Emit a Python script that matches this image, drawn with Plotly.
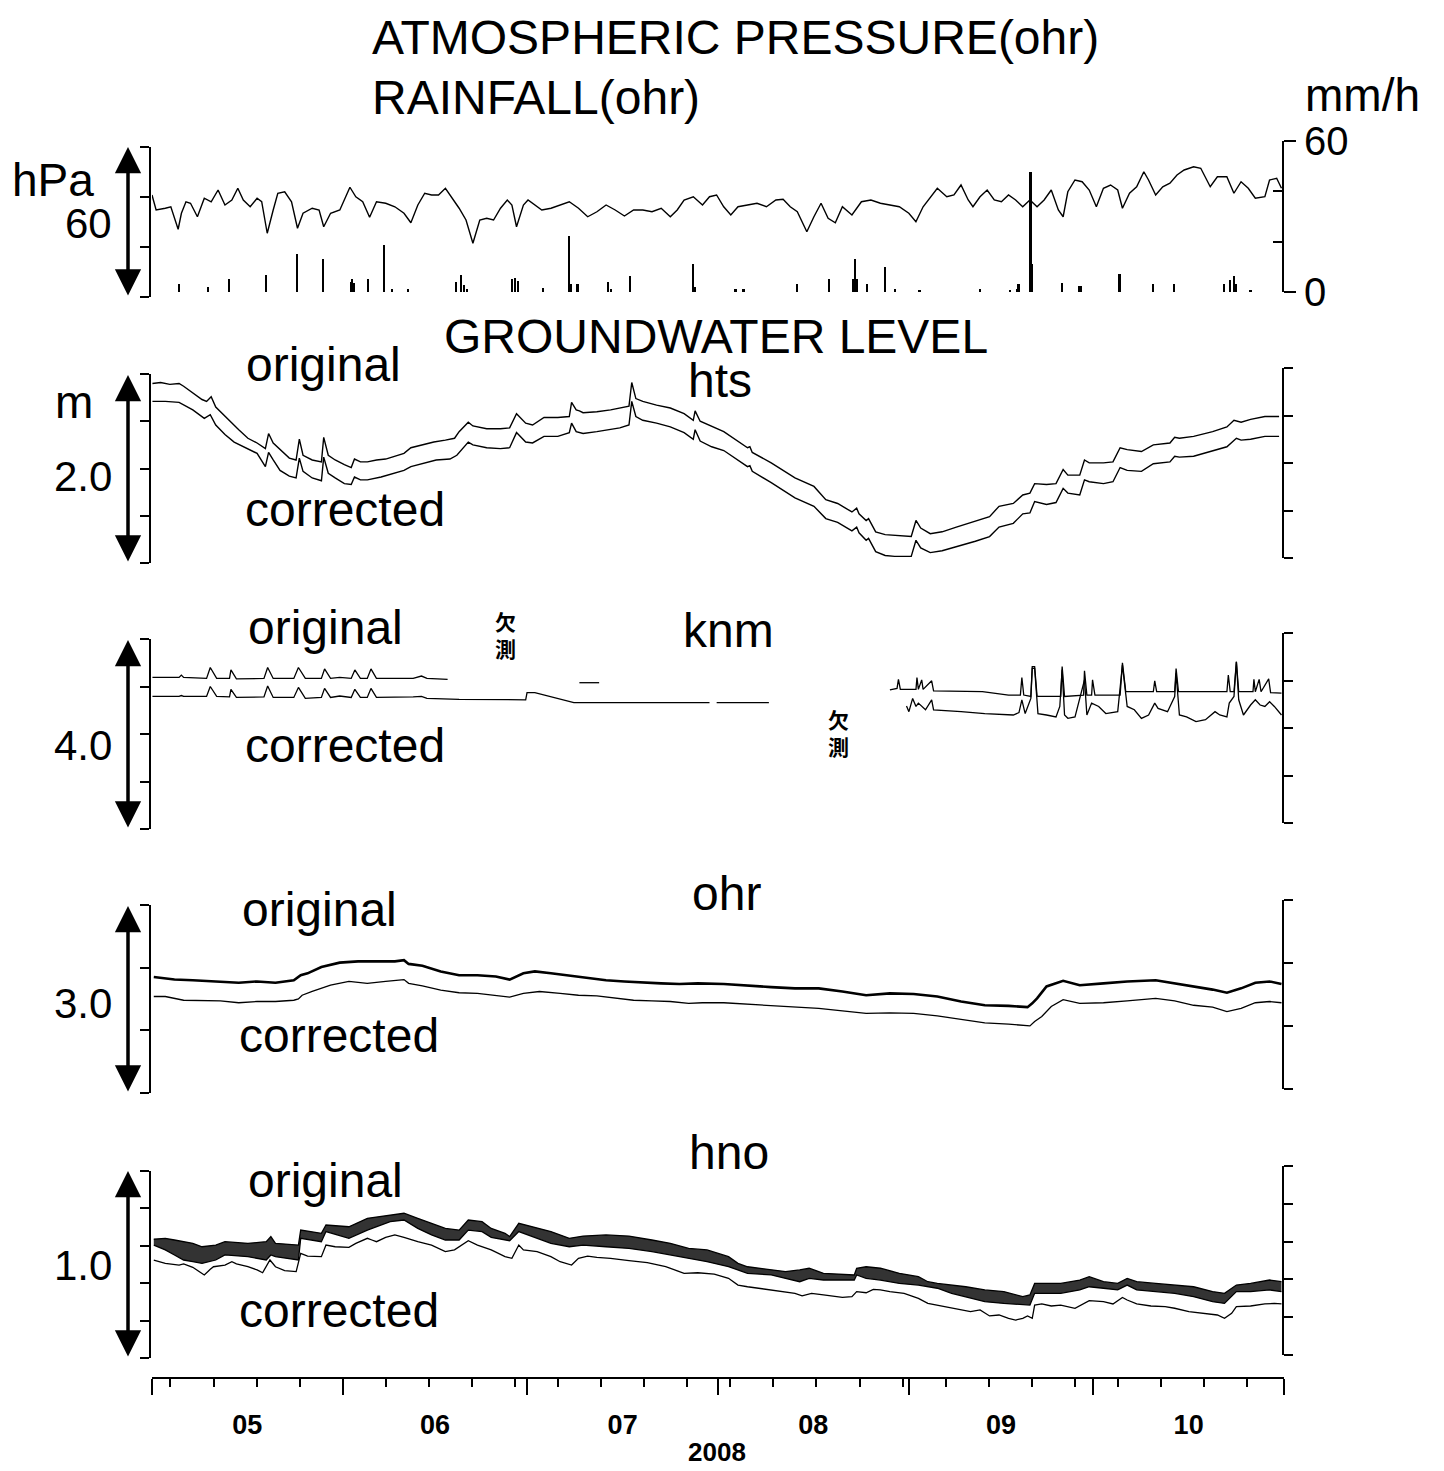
import plotly.graph_objects as go
import pandas as pd

# ---------------- data (day offset from 2008-05-01, value) ----------------
START = pd.Timestamp("2008-05-01")
END = pd.Timestamp("2008-11-01")

PRESSURE_DAYS = [0.0, 0.67, 2.16, 3.06, 4.25, 4.78, 5.52, 6.26, 7.38, 8.50, 9.62, 10.74, 11.86, 12.98, 13.95,
                 14.84, 15.96, 17.08, 17.83, 18.73, 19.70, 20.45, 21.57, 22.68, 23.65, 24.55, 26.04, 27.16,
                 27.91, 29.03, 30.53, 31.63, 32.17, 33.13, 34.25, 35.37, 36.49, 37.99, 39.48, 40.96, 42.08,
                 43.21, 44.33, 45.45, 46.57, 47.69, 48.80, 49.92, 51.04, 52.16, 53.28, 54.40, 55.52, 56.65,
                 57.75, 58.50, 59.25, 60.37, 61.12, 62.24, 63.36, 64.86, 66.34, 67.83, 69.33, 70.82, 72.32,
                 73.81, 75.29, 76.79, 78.28, 79.78, 81.27, 82.77, 84.25, 85.37, 86.49, 87.99, 89.48,
                 90.62, 91.77, 92.93, 94.08, 95.25, 96.80, 98.34, 99.87, 101.41, 102.58, 103.74, 104.89,
                 105.66, 106.44, 107.59, 108.75, 109.90, 111.07, 112.22, 113.77, 115.31, 116.86, 118.40,
                 119.93, 121.47, 123.02, 124.17, 125.34, 126.85, 127.65, 129.19, 130.35, 131.50, 132.67,
                 133.44, 134.59, 135.75, 136.91, 138.07, 139.22, 140.38, 141.53, 142.70, 143.86, 145.01,
                 146.17, 147.32, 148.10, 148.86, 150.02, 151.19, 152.34, 153.50, 154.65, 155.81, 156.97,
                 157.74, 158.89, 160.05, 161.22, 161.98, 163.14, 164.29, 165.46, 166.61, 167.77, 169.31,
                 170.47, 172.01, 173.17, 174.71, 175.86, 177.02, 178.19, 179.34, 180.89, 181.65, 182.81, 183.59]
PRESSURE_HPA = [1005.8, 999.8, 1000.5, 1001.1, 992.1, 998.5, 1003.1, 1002.5, 997.1, 1004.5, 1003.1, 1007.8,
                1001.8, 1003.8, 1008.5, 1003.8, 1001.1, 1004.5, 1003.1, 990.5, 999.8, 1006.5, 1007.1, 1003.1,
                992.5, 998.5, 1000.5, 999.8, 993.1, 998.5, 999.8, 1005.8, 1008.9, 1005.1, 1003.1, 996.9,
                1003.1, 1002.5, 1001.1, 998.5, 994.7, 1001.8, 1006.5, 1005.8, 1005.8, 1008.5, 1004.5, 1000.5,
                995.8, 986.5, 995.8, 996.5, 995.8, 1000.5, 1003.8, 1001.8, 993.1, 1001.8, 1003.8, 1001.8,
                999.8, 1000.5, 1001.8, 1003.1, 1000.5, 997.1, 999.1, 1001.8, 999.8, 997.4, 999.8, 999.8,
                999.1, 1000.5, 997.1, 999.8, 1003.8, 1005.1, 1001.8,
                1005.1, 1005.8, 1001.1, 997.8, 1001.1, 1001.8, 1002.5, 1001.1, 1003.8, 1004.1, 1001.1, 999.1,
                995.1, 991.1, 997.1, 1002.5, 996.5, 994.7, 1001.1, 997.8, 1003.1, 1003.8, 1002.5, 1001.8,
                1001.1, 998.5, 995.1, 1001.1, 1005.8, 1008.5, 1005.1, 1005.8, 1009.8, 1003.8, 1001.1, 1005.1,
                1007.8, 1003.8, 1003.1, 1005.8, 1003.8, 1001.1, 1003.8, 1001.1, 1003.8, 1007.8, 999.8, 997.1,
                1007.1, 1011.8, 1011.1, 1007.8, 1001.1, 1008.5, 1009.8, 1007.8, 1000.5, 1006.5, 1009.1,
                1015.1, 1011.8, 1005.8, 1009.1, 1010.5, 1013.8, 1015.8, 1017.1, 1016.5, 1009.1, 1013.1,
                1013.1, 1006.5, 1011.1, 1008.5, 1004.5, 1005.1, 1011.8, 1012.5, 1008.5]

RAIN = [(4.4, 3.3), (9.1, 2.0), (12.6, 5.0), (18.6, 6.7), (23.6, 15.0), (27.8, 13.0), (32.4, 4.0),
        (32.6, 5.3), (32.8, 3.5), (35.2, 5.0), (37.8, 18.7), (39.1, 1.3), (41.7, 1.3), (49.5, 4.0),
        (50.3, 6.7), (50.8, 2.7), (51.3, 1.0), (58.6, 5.0), (59.0, 5.5), (59.5, 4.5), (63.6, 1.6),
        (67.8, 22.4), (68.1, 3.0), (69.2, 3.0), (74.2, 4.0), (74.7, 1.3), (77.7, 6.4), (88.0, 11.0),
        (88.3, 2.0), (94.9, 1.0), (96.2, 1.3), (104.9, 3.3), (110.1, 5.3), (114.0, 5.0), (114.3, 13.3),
        (114.6, 5.0), (116.2, 3.0), (119.2, 10.0), (120.8, 1.3), (124.8, 0.5), (134.6, 1.0), (139.5, 0.7),
        (140.6, 1.0), (140.9, 3.3), (142.85, 47.6), (143.1, 11.0), (147.9, 3.6), (150.7, 2.3),
        (151.1, 2.3), (157.3, 7.3), (162.8, 3.0), (166.1, 3.3), (174.3, 3.0), (175.3, 4.7),
        (175.9, 6.3), (176.2, 3.0), (178.6, 0.7)]

HTS_ORIGINAL = [(0.07, 2.90), (1.41, 2.91), (2.90, 2.89), (4.40, 2.90), (5.14, 2.87), (6.63, 2.80), (8.13, 2.73),
                (8.87, 2.71), (9.62, 2.76), (10.36, 2.65), (11.86, 2.55), (12.60, 2.51), (14.10, 2.41), (15.59, 2.32),
                (17.08, 2.27), (18.43, 2.21), (18.95, 2.37), (19.70, 2.27), (20.81, 2.20), (22.32, 2.11), (23.42, 2.09),
                (23.95, 2.31), (24.55, 2.14), (26.04, 2.09), (27.54, 2.07), (27.91, 2.33), (28.65, 2.14), (29.77, 2.09),
                (31.27, 2.04), (32.38, 2.01), (32.91, 2.10), (33.88, 2.07), (35.01, 2.07), (36.50, 2.09), (37.98, 2.10),
                (39.48, 2.13), (40.96, 2.16), (42.08, 2.22), (43.95, 2.25), (45.81, 2.28), (47.68, 2.30), (49.18, 2.32),
                (49.92, 2.39), (51.41, 2.49), (52.16, 2.45), (54.40, 2.42), (56.63, 2.42), (58.13, 2.43), (59.25, 2.58),
                (60.74, 2.48), (61.86, 2.46), (63.72, 2.54), (64.84, 2.54), (65.96, 2.54), (67.83, 2.55), (68.20, 2.70),
                (68.95, 2.62), (69.47, 2.61), (70.07, 2.59), (72.31, 2.60), (74.55, 2.62), (76.04, 2.64), (77.53, 2.66),
                (77.98, 2.91), (78.65, 2.74), (79.77, 2.71), (82.01, 2.67), (84.25, 2.64), (86.49, 2.58), (87.98, 2.51),
                (88.28, 2.61), (89.10, 2.50), (90.97, 2.45), (92.94, 2.39), (96.80, 2.22), (97.18, 2.23), (97.57, 2.17),
                (100.65, 2.06), (104.51, 1.90), (107.60, 1.81), (109.52, 1.67), (111.45, 1.63), (113.77, 1.54),
                (114.54, 1.58), (114.92, 1.52), (116.08, 1.45), (116.47, 1.47), (117.63, 1.33), (119.17, 1.30),
                (120.71, 1.29), (123.41, 1.28), (124.18, 1.45), (124.95, 1.37), (126.50, 1.31), (128.43, 1.33),
                (130.74, 1.38), (133.83, 1.44), (136.14, 1.49), (137.68, 1.60), (140.00, 1.63), (141.54, 1.72),
                (142.70, 1.74), (143.47, 1.84), (145.40, 1.83), (146.94, 1.84), (148.10, 1.99), (148.87, 1.93),
                (150.80, 1.93), (151.57, 2.09), (152.34, 2.06), (154.66, 2.06), (156.20, 2.07), (157.36, 2.22),
                (158.51, 2.20), (160.83, 2.18), (162.76, 2.25), (165.46, 2.27), (166.23, 2.33), (167.00, 2.32),
                (169.31, 2.34), (172.40, 2.39), (174.72, 2.44), (175.87, 2.51), (177.03, 2.49), (178.57, 2.52),
                (180.89, 2.55), (183.20, 2.55)]
HTS_CORRECTED = [(0.07, 2.71), (2.16, 2.71), (4.40, 2.70), (6.63, 2.62), (8.50, 2.53), (9.47, 2.57), (10.36, 2.46),
                 (11.86, 2.36), (13.35, 2.28), (15.59, 2.21), (17.08, 2.16), (18.43, 2.02), (18.95, 2.17), (19.70, 2.09),
                 (20.81, 1.98), (22.32, 1.92), (23.42, 1.90), (23.95, 2.11), (24.55, 1.97), (26.04, 1.90), (27.54, 1.87),
                 (27.91, 2.12), (28.65, 1.95), (29.77, 1.90), (31.27, 1.84), (32.38, 1.83), (32.91, 1.91), (33.88, 1.88),
                 (35.01, 1.88), (37.24, 1.91), (39.48, 1.95), (40.96, 1.98), (42.08, 2.02), (43.95, 2.05), (46.19, 2.09),
                 (48.43, 2.10), (49.55, 2.14), (51.41, 2.28), (52.16, 2.25), (54.40, 2.22), (56.63, 2.21), (58.13, 2.22),
                 (59.25, 2.38), (60.74, 2.28), (61.86, 2.27), (63.72, 2.34), (65.96, 2.34), (67.83, 2.38), (68.20, 2.48),
                 (68.95, 2.39), (70.07, 2.37), (72.31, 2.39), (74.55, 2.41), (76.04, 2.43), (77.53, 2.46), (77.98, 2.71),
                 (78.65, 2.55), (79.77, 2.51), (82.01, 2.48), (84.25, 2.44), (86.49, 2.38), (87.98, 2.31), (88.28, 2.41),
                 (89.10, 2.29), (90.97, 2.23), (92.94, 2.19), (96.80, 2.02), (97.18, 2.03), (97.57, 1.97), (100.65, 1.85),
                 (104.51, 1.69), (107.60, 1.60), (109.52, 1.47), (111.45, 1.43), (113.77, 1.34), (114.54, 1.38),
                 (114.92, 1.32), (116.08, 1.24), (116.47, 1.26), (117.63, 1.12), (119.17, 1.08), (120.71, 1.07),
                 (123.41, 1.07), (124.18, 1.24), (124.95, 1.16), (126.50, 1.11), (128.43, 1.13), (130.74, 1.17),
                 (133.83, 1.23), (136.14, 1.28), (137.68, 1.38), (140.00, 1.42), (141.54, 1.52), (142.70, 1.53),
                 (143.47, 1.65), (145.40, 1.62), (146.94, 1.64), (148.10, 1.79), (148.87, 1.74), (150.80, 1.72),
                 (151.57, 1.88), (152.34, 1.86), (154.66, 1.84), (156.20, 1.86), (157.36, 2.01), (158.51, 1.98),
                 (160.83, 1.97), (162.76, 2.05), (165.46, 2.07), (166.23, 2.13), (167.00, 2.12), (169.31, 2.13),
                 (172.40, 2.19), (174.72, 2.23), (176.26, 2.32), (177.03, 2.30), (178.57, 2.31), (180.89, 2.34),
                 (183.20, 2.34)]

# None marks a gap in the record (欠測)
KNM_ORIGINAL = [(0.07, 4.19), (4.40, 4.19), (4.77, 4.24), (5.14, 4.19), (8.87, 4.17), (9.47, 4.40), (10.51, 4.17),
                (12.60, 4.17), (12.83, 4.35), (13.72, 4.16), (18.20, 4.17), (18.80, 4.40), (19.70, 4.17),
                (23.05, 4.17), (23.80, 4.40), (24.92, 4.17), (27.53, 4.17), (28.05, 4.37), (29.02, 4.17),
                (30.51, 4.19), (32.38, 4.17), (32.97, 4.35), (33.87, 4.17), (34.99, 4.17), (35.59, 4.37),
                (36.48, 4.17), (42.45, 4.17), (43.80, 4.22), (44.69, 4.17), (48.05, 4.15), (50.0, None),
                (69.47, 4.08), (72.68, 4.08), (80.0, None),
                (119.94, 3.93), (121.10, 3.96), (121.33, 4.15), (121.64, 3.94), (124.18, 3.94), (124.34, 4.19),
                (124.57, 3.94), (125.11, 4.14), (125.34, 3.94), (126.73, 4.12), (127.04, 3.91), (134.98, 3.89),
                (139.23, 3.82), (141.15, 3.82), (141.39, 4.19), (141.70, 3.82), (142.85, 3.79), (143.08, 4.42),
                (143.47, 4.42), (143.86, 3.80), (144.01, 3.79), (147.71, 3.79), (147.94, 4.42), (148.33, 3.79),
                (151.42, 3.82), (151.57, 4.33), (151.96, 3.82), (152.73, 3.82), (152.88, 4.14), (153.27, 3.82),
                (157.36, 3.82), (157.74, 4.50), (158.28, 3.89), (162.76, 3.89), (162.99, 4.12), (163.30, 3.89),
                (166.23, 3.89), (166.46, 4.38), (166.85, 3.89), (174.72, 3.89), (174.95, 4.24), (175.26, 3.89),
                (175.87, 3.89), (176.26, 4.52), (176.64, 3.89), (178.96, 3.89), (179.11, 4.15), (179.34, 3.89),
                (179.96, 4.15), (180.27, 3.89), (181.51, 4.16), (181.82, 3.87), (183.59, 3.86)]
KNM_CORRECTED = [(0.07, 3.79), (4.40, 3.79), (4.77, 3.81), (5.14, 3.79), (8.87, 3.79), (9.47, 4.00), (10.51, 3.79),
                 (12.60, 3.78), (12.83, 3.94), (13.72, 3.77), (18.20, 3.78), (18.80, 4.01), (19.70, 3.77),
                 (23.05, 3.77), (23.80, 3.98), (24.92, 3.75), (27.53, 3.77), (28.05, 3.96), (29.02, 3.77),
                 (30.51, 3.80), (32.38, 3.77), (32.97, 3.94), (33.87, 3.77), (34.99, 3.77), (35.59, 3.96),
                 (36.48, 3.77), (42.45, 3.78), (43.80, 3.79), (44.69, 3.75), (49.92, 3.73), (60.74, 3.72),
                 (60.96, 3.87), (62.23, 3.87), (64.84, 3.79), (68.57, 3.66), (79.77, 3.66), (90.62, 3.66),
                 (91.2, None), (91.78, 3.66), (100.27, 3.66), (110.0, None),
                 (122.64, 3.59), (123.03, 3.47), (123.64, 3.75), (124.18, 3.58), (124.57, 3.65), (125.73, 3.51),
                 (126.73, 3.72), (127.04, 3.51), (131.51, 3.47), (135.37, 3.43), (140.00, 3.40), (140.92, 3.45),
                 (141.39, 3.72), (141.93, 3.43), (142.85, 3.75), (143.08, 4.38), (143.47, 4.38), (144.01, 3.43),
                 (145.40, 3.40), (146.94, 3.36), (147.56, 3.58), (147.94, 4.35), (148.33, 3.40), (148.87, 3.33),
                 (150.03, 3.36), (151.57, 4.14), (151.96, 3.40), (152.73, 3.65), (153.88, 3.58), (155.04, 3.43),
                 (156.97, 3.47), (157.74, 4.45), (158.51, 3.58), (159.67, 3.51), (160.83, 3.33), (161.99, 3.40),
                 (162.99, 3.65), (163.53, 3.54), (165.07, 3.47), (166.23, 3.79), (166.46, 4.28), (167.00, 3.40),
                 (168.16, 3.36), (169.70, 3.26), (171.24, 3.30), (172.79, 3.47), (173.56, 3.40), (174.72, 3.36),
                 (175.10, 3.65), (175.87, 3.79), (176.26, 4.52), (176.64, 3.72), (177.41, 3.40), (178.57, 3.61),
                 (179.34, 3.72), (180.12, 3.61), (180.89, 3.58), (181.66, 3.68), (182.43, 3.58), (183.20, 3.45),
                 (183.59, 3.40)]

OHR_ORIGINAL = [(0.29, 2.85), (3.65, 2.81), (6.63, 2.80), (9.62, 2.78), (14.10, 2.76), (17.08, 2.78), (20.07, 2.76),
                (23.05, 2.80), (24.17, 2.88), (25.29, 2.91), (27.53, 3.01), (30.51, 3.08), (33.50, 3.10), (36.49, 3.10),
                (39.47, 3.10), (40.96, 3.12), (41.71, 3.06), (43.95, 3.03), (46.93, 2.94), (49.92, 2.88), (52.90, 2.88),
                (55.89, 2.86), (58.13, 2.81), (60.37, 2.91), (62.23, 2.94), (64.84, 2.91), (67.83, 2.87), (70.81, 2.83),
                (73.80, 2.80), (76.78, 2.78), (79.77, 2.76), (82.75, 2.75), (85.74, 2.74), (88.72, 2.75), (92.94, 2.74),
                (96.80, 2.71), (100.65, 2.69), (104.51, 2.67), (108.37, 2.67), (112.22, 2.62), (116.08, 2.56),
                (119.94, 2.59), (123.80, 2.58), (127.65, 2.54), (131.51, 2.46), (135.37, 2.40), (139.23, 2.39),
                (142.31, 2.37), (143.08, 2.43), (143.86, 2.51), (145.40, 2.70), (148.10, 2.79), (150.80, 2.72),
                (154.66, 2.75), (158.51, 2.78), (163.14, 2.80), (166.23, 2.75), (169.31, 2.70), (172.40, 2.65),
                (174.72, 2.60), (177.03, 2.67), (179.34, 2.76), (181.66, 2.78), (183.59, 2.74)]
OHR_CORRECTED = [(0.29, 2.54), (2.16, 2.54), (5.14, 2.48), (8.13, 2.47), (11.11, 2.47), (14.10, 2.44), (17.08, 2.46),
                 (20.07, 2.46), (23.05, 2.48), (23.80, 2.50), (24.40, 2.56), (26.04, 2.62), (29.02, 2.72), (32.01, 2.78),
                 (34.99, 2.75), (37.98, 2.78), (40.96, 2.81), (41.71, 2.75), (43.95, 2.71), (46.93, 2.64), (49.92, 2.60),
                 (52.90, 2.59), (55.89, 2.56), (58.13, 2.53), (60.37, 2.59), (62.98, 2.62), (66.34, 2.59), (69.32, 2.56),
                 (72.31, 2.55), (75.29, 2.51), (78.28, 2.48), (81.26, 2.47), (84.25, 2.46), (87.23, 2.43), (89.47, 2.44),
                 (92.94, 2.44), (96.80, 2.42), (100.65, 2.39), (104.51, 2.37), (108.37, 2.35), (112.22, 2.31),
                 (116.08, 2.27), (119.94, 2.28), (123.80, 2.27), (127.65, 2.23), (131.51, 2.18), (135.37, 2.12),
                 (139.23, 2.10), (142.70, 2.07), (143.47, 2.14), (144.63, 2.22), (146.17, 2.38), (148.10, 2.49),
                 (150.80, 2.43), (154.66, 2.44), (158.51, 2.47), (163.14, 2.51), (166.23, 2.47), (169.31, 2.40),
                 (172.40, 2.37), (174.72, 2.30), (177.03, 2.35), (179.34, 2.44), (181.66, 2.46), (183.59, 2.44)]

# hno original: tidal record, given as (day, high-water envelope, low-water envelope)
HNO_ORIGINAL = [(0.29, 1.635, 1.604), (2.16, 1.640, 1.578), (3.65, 1.631, 1.551), (5.14, 1.622, 1.524),
                (6.63, 1.613, 1.515), (8.13, 1.595, 1.506), (10.36, 1.604, 1.524), (11.86, 1.622, 1.551),
                (15.59, 1.613, 1.542), (18.57, 1.622, 1.524), (19.32, 1.649, 1.551), (20.07, 1.613, 1.542),
                (23.80, 1.604, 1.524), (24.17, 1.684, 1.640), (27.53, 1.667, 1.622), (28.28, 1.711, 1.676),
                (32.01, 1.702, 1.640), (35.01, 1.747, 1.684), (38.72, 1.765, 1.729), (40.96, 1.774, 1.738),
                (43.20, 1.747, 1.693), (45.44, 1.720, 1.658), (47.68, 1.693, 1.631), (49.92, 1.684, 1.631),
                (51.41, 1.738, 1.684), (53.65, 1.729, 1.676), (55.14, 1.693, 1.645), (57.38, 1.667, 1.631),
                (58.13, 1.649, 1.627), (59.62, 1.720, 1.676), (62.60, 1.693, 1.640), (64.84, 1.676, 1.613),
                (67.83, 1.640, 1.595), (70.07, 1.652, 1.604), (73.80, 1.658, 1.595), (77.53, 1.652, 1.586),
                (81.26, 1.631, 1.569), (84.25, 1.613, 1.551), (87.23, 1.586, 1.533), (90.22, 1.578, 1.515),
                (93.71, 1.542, 1.488), (95.25, 1.506, 1.471), (96.80, 1.488, 1.453), (100.65, 1.471, 1.444),
                (102.97, 1.462, 1.426), (105.28, 1.471, 1.408), (106.82, 1.480, 1.426), (109.14, 1.453, 1.417),
                (112.22, 1.449, 1.417), (114.15, 1.444, 1.417), (114.54, 1.480, 1.444), (116.08, 1.488, 1.426),
                (118.40, 1.480, 1.417), (121.48, 1.453, 1.399), (124.57, 1.435, 1.390), (126.11, 1.408, 1.381),
                (127.65, 1.399, 1.373), (129.97, 1.390, 1.346), (132.28, 1.381, 1.328), (135.37, 1.364, 1.301),
                (138.46, 1.355, 1.292), (141.54, 1.328, 1.283), (142.70, 1.337, 1.283), (143.47, 1.399, 1.346),
                (147.71, 1.399, 1.346), (150.80, 1.417, 1.364), (152.34, 1.435, 1.381), (154.66, 1.408, 1.373),
                (156.97, 1.399, 1.364), (158.51, 1.426, 1.390), (160.06, 1.408, 1.364), (163.14, 1.399, 1.355),
                (166.23, 1.390, 1.346), (169.31, 1.381, 1.328), (172.40, 1.355, 1.301), (174.33, 1.346, 1.292),
                (176.26, 1.390, 1.355), (178.57, 1.399, 1.355), (181.66, 1.417, 1.364), (183.59, 1.408, 1.355)]
HNO_CORRECTED = [(0.29, 1.524), (2.16, 1.506), (4.40, 1.497), (5.14, 1.503), (6.63, 1.485), (8.50, 1.444),
                 (9.47, 1.474), (10.00, 1.488), (11.86, 1.497), (12.98, 1.515), (13.72, 1.503), (15.59, 1.488),
                 (17.08, 1.471), (17.98, 1.456), (19.17, 1.524), (20.07, 1.488), (21.56, 1.467), (23.43, 1.462),
                 (24.17, 1.560), (25.29, 1.545), (27.53, 1.542), (28.28, 1.604), (29.77, 1.595), (32.01, 1.592),
                 (33.13, 1.613), (35.01, 1.640), (35.74, 1.631), (36.49, 1.622), (37.98, 1.645), (39.47, 1.658),
                 (40.96, 1.645), (43.20, 1.622), (45.44, 1.604), (47.68, 1.569), (49.17, 1.578), (50.66, 1.613),
                 (51.41, 1.627), (52.90, 1.604), (55.14, 1.578), (57.38, 1.542), (58.50, 1.533), (59.62, 1.604),
                 (60.37, 1.578), (62.60, 1.569), (64.84, 1.542), (66.34, 1.515), (68.20, 1.497), (69.32, 1.533),
                 (70.81, 1.545), (72.31, 1.538), (74.54, 1.533), (77.53, 1.521), (80.51, 1.510), (83.50, 1.488),
                 (86.49, 1.453), (88.72, 1.456), (91.39, 1.449), (93.71, 1.426), (95.25, 1.390), (96.80, 1.381),
                 (100.65, 1.364), (104.51, 1.346), (105.67, 1.332), (107.21, 1.346), (109.14, 1.337), (112.22, 1.324),
                 (113.77, 1.328), (114.54, 1.355), (116.08, 1.349), (117.24, 1.367), (118.40, 1.364), (119.94, 1.355),
                 (122.25, 1.346), (124.57, 1.319), (126.11, 1.292), (129.20, 1.271), (131.51, 1.257), (133.05, 1.248),
                 (134.60, 1.257), (136.14, 1.225), (137.68, 1.230), (139.23, 1.212), (140.38, 1.203), (141.54, 1.212),
                 (142.31, 1.225), (143.08, 1.212), (143.47, 1.283), (144.63, 1.289), (146.17, 1.278), (147.71, 1.283),
                 (150.03, 1.266), (151.57, 1.292), (152.34, 1.307), (154.66, 1.301), (156.20, 1.289), (157.74, 1.324),
                 (158.51, 1.310), (160.06, 1.289), (162.37, 1.278), (164.68, 1.275), (166.23, 1.266), (168.54, 1.248),
                 (170.86, 1.239), (173.17, 1.230), (174.33, 1.212), (175.49, 1.239), (176.26, 1.275), (178.57, 1.278),
                 (180.89, 1.289), (182.43, 1.292), (183.59, 1.289)]

MONTH_LABEL_FORMAT = "%m"
YEAR_LABEL = "2008"

# ---------------- helpers ----------------
OFF = 8                      # page body margin of the html page
W, H = 1444 - OFF, 1471 - OFF
SANS = "Liberation Sans, Arial, Helvetica, sans-serif"
CJK = "Noto Sans CJK JP, Noto Sans CJK SC, sans-serif"


def dates(days):
    return [START + pd.Timedelta(days=d) for d in days]


def col(rows, i):
    return [r[i] for r in rows]


def px(x):
    return (x - OFF) / W


def py(y):
    return 1 - (y - OFF) / H


fig = go.Figure()


def line_trace(rows, yaxis, width=1.4, i=1):
    fig.add_trace(go.Scatter(x=dates(col(rows, 0)), y=col(rows, i), mode="lines",
                             line=dict(color="black", width=width), connectgaps=False,
                             xaxis="x", yaxis=yaxis, showlegend=False, hoverinfo="skip"))


# panel 1: pressure + rainfall
fig.add_trace(go.Scatter(x=dates(PRESSURE_DAYS), y=PRESSURE_HPA, mode="lines",
                         line=dict(color="black", width=1.4), xaxis="x", yaxis="y",
                         showlegend=False, hoverinfo="skip"))
fig.add_trace(go.Bar(x=dates(col(RAIN, 0)), y=col(RAIN, 1), width=0.28 * 86400000,
                     marker=dict(color="black", line=dict(width=0)), xaxis="x", yaxis="y2",
                     showlegend=False, hoverinfo="skip"))
# panel 2 hts
line_trace(HTS_ORIGINAL, "y3")
line_trace(HTS_CORRECTED, "y3")
# panel 3 knm
line_trace(KNM_ORIGINAL, "y5", 1.3)
line_trace(KNM_CORRECTED, "y5", 1.3)
# panel 4 ohr
line_trace(OHR_ORIGINAL, "y7", 2.6)
line_trace(OHR_CORRECTED, "y7", 1.3)
# panel 5 hno: original drawn as band between tidal envelopes
fig.add_trace(go.Scatter(x=dates(col(HNO_ORIGINAL, 0)), y=col(HNO_ORIGINAL, 1), mode="lines",
                         line=dict(color="black", width=1.3), xaxis="x", yaxis="y9",
                         showlegend=False, hoverinfo="skip"))
fig.add_trace(go.Scatter(x=dates(col(HNO_ORIGINAL, 0)), y=col(HNO_ORIGINAL, 2), mode="lines",
                         line=dict(color="black", width=1.3), fill="tonexty",
                         fillcolor="rgba(0,0,0,0.8)", xaxis="x", yaxis="y9",
                         showlegend=False, hoverinfo="skip"))
line_trace(HNO_CORRECTED, "y9", 1.3)
# right-hand bracket axes (empty subplots)
for ya in ["y4", "y6", "y8", "y10"]:
    fig.add_trace(go.Scatter(x=[], y=[], xaxis="x", yaxis=ya, showlegend=False))

LEFT_POS = px(150)
RIGHT_POS = px(1283)


def yax(top, bottom, rng, tickvals, side="left"):
    return dict(domain=[py(bottom), py(top)], range=rng, anchor="free",
                position=LEFT_POS if side == "left" else RIGHT_POS, side=side,
                showline=True, linecolor="black", linewidth=2, ticks="outside", ticklen=9,
                tickwidth=2, tickcolor="black", tickmode="array", tickvals=tickvals,
                showticklabels=False, showgrid=False, zeroline=False, automargin=False)


layout = dict(
    template="none",
    width=W, height=H, margin=dict(l=0, r=0, t=0, b=0, pad=0, autoexpand=False),
    paper_bgcolor="white", plot_bgcolor="rgba(0,0,0,0)", showlegend=False, bargap=0,
    xaxis=dict(domain=[px(152), px(1284)], anchor="free", position=py(1378), type="date",
               range=[START, END], showline=True, linecolor="black", linewidth=2,
               ticks="outside", ticklen=16, tickwidth=2, tickcolor="black",
               dtick="M1", tick0="2008-05-01", tickformat=MONTH_LABEL_FORMAT, ticklabelmode="period",
               ticklabelstandoff=7, automargin=False,
               tickfont=dict(family=SANS, size=27, color="black", weight="bold"),
               showgrid=False, zeroline=False,
               minor=dict(ticks="outside", ticklen=8, tickwidth=1.5, tickcolor="black",
                          dtick=7 * 86400000, tick0="2008-05-04", showgrid=False)),
    yaxis=yax(147, 297, [965, 1025], [965, 985, 1005, 1025]),
    yaxis2=dict(domain=[py(292), py(141)], range=[0, 60], anchor="free", position=RIGHT_POS,
                side="right", showline=True, linecolor="black", linewidth=2, ticks="outside",
                ticklen=12, tickwidth=2, tickcolor="black", tickmode="array", tickvals=[0, 60],
                ticktext=["0", "60"], tickfont=dict(family=SANS, size=40, color="black"),
                showgrid=False, zeroline=False, automargin=False,
                minor=dict(tickmode="array", tickvals=[20, 40], ticks="inside", ticklen=9,
                           tickwidth=2, tickcolor="black", showgrid=False)),
    yaxis3=yax(374, 563, [1.0, 3.0], [1.0, 1.5, 2.0, 2.5, 3.0]),
    yaxis4=yax(368, 558, [1.0, 3.0], [1.0, 1.5, 2.0, 2.5, 3.0], "right"),
    yaxis5=yax(639, 829, [1.0, 5.0], [1, 2, 3, 4, 5]),
    yaxis6=yax(633, 823, [1.0, 5.0], [1, 2, 3, 4, 5], "right"),
    yaxis7=yax(905, 1093, [1.0, 4.0], [1, 2, 3, 4]),
    yaxis8=yax(900, 1089, [1.0, 4.0], [1, 2, 3, 4], "right"),
    yaxis9=yax(1171, 1358, [1.0, 2.0], [1.0, 1.2, 1.4, 1.6, 1.8, 2.0]),
    yaxis10=yax(1166, 1355, [1.0, 2.0], [1.0, 1.2, 1.4, 1.6, 1.8, 2.0], "right"),
)
fig.update_layout(**layout)

ann = []


def text(x, y, s, size=48, anchor="left", family=SANS, weight="normal"):
    ann.append(dict(x=px(x), y=py(y), xref="paper", yref="paper", text=s, showarrow=False,
                    xanchor=anchor, yanchor="middle",
                    font=dict(family=family, size=size, color="black", weight=weight)))


def arrow(top, bottom):
    ann.append(dict(x=px(128), y=py(top), xref="paper", yref="paper", ax=0, ay=bottom - top,
                    axref="pixel", ayref="pixel", text="", showarrow=True,
                    arrowhead=2, startarrowhead=2, arrowside="end+start",
                    arrowsize=1.5, startarrowsize=1.5, arrowwidth=3.5, arrowcolor="black",
                    standoff=0, startstandoff=0))


text(370, 38, "ATMOSPHERIC PRESSURE(ohr)")
text(370, 97, "RAINFALL(ohr)")
text(1303, 95, "mm/h", 46)
text(10, 180, "hPa", 46)
text(114, 223, "60", 42, "right")
text(442, 336, "GROUNDWATER LEVEL")

text(244, 364, "original")
text(686, 380, "hts")
text(53, 402, "m", 46)
text(114, 476, "2.0", 42, "right")
text(243, 510, "corrected")

text(246, 627, "original")
text(681, 630, "knm")
text(114, 745, "4.0", 42, "right")
text(243, 745, "corrected")
text(505, 634, "欠<br>測", 21, "center", CJK, "bold")
text(838, 732, "欠<br>測", 21, "center", CJK, "bold")

text(240, 909, "original")
text(690, 893, "ohr")
text(114, 1004, "3.0", 42, "right")
text(237, 1035, "corrected")

text(687, 1152, "hno")
text(246, 1180, "original")
text(114, 1265, "1.0", 42, "right")
text(237, 1310, "corrected")

text(717, 1452, YEAR_LABEL, 26, "center", SANS, "bold")

for t, b in [(147, 297), (375, 563), (640, 829), (906, 1093), (1171, 1358)]:
    arrow(t, b)

fig.update_layout(annotations=ann)
fig.write_html("out.html", config={"displayModeBar": False})
